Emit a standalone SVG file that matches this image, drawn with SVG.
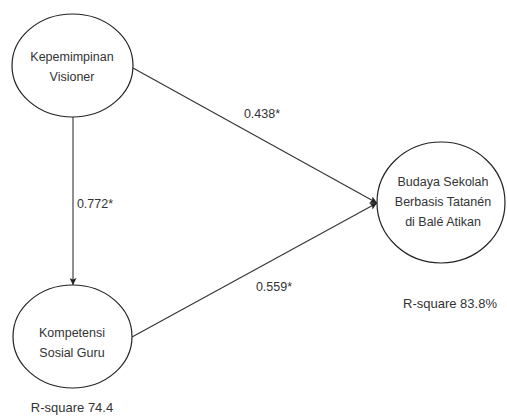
<svg xmlns="http://www.w3.org/2000/svg" width="507" height="416" viewBox="0 0 507 416">
<style>
.node{fill:#fff;stroke:#222;stroke-width:1.2}
.t{font-family:"Liberation Sans",Arial,sans-serif;font-size:12.5px;fill:#333;text-anchor:middle}
.r{font-size:13px}
.e{stroke:#333;stroke-width:1.1;fill:none}
</style>
<defs>
<marker id="arr" viewBox="0 0 10 10" refX="10" refY="5" markerWidth="9" markerHeight="7" orient="auto" markerUnits="userSpaceOnUse">
<path d="M0,0 L10,5 L0,10 L2,5 Z" fill="#222"/>
</marker>
</defs>
<rect width="507" height="416" fill="#fff"/>
<g id="connectors">
<line class="e" x1="73" y1="117" x2="73" y2="285" marker-end="url(#arr)"/>
<line class="e" x1="133" y1="68" x2="377" y2="203" marker-end="url(#arr)"/>
<line class="e" x1="132" y1="337" x2="377" y2="203" marker-end="url(#arr)"/>
<text class="t" x="262" y="118">0.438*</text>
<text class="t" x="95" y="208">0.772*</text>
<text class="t" x="274" y="291">0.559*</text>
</g>
<g id="kepemimpinan">
<ellipse class="node" cx="72.5" cy="65.5" rx="60.5" ry="51.5"/>
<text class="t" x="72" y="61">Kepemimpinan</text>
<text class="t" x="72" y="81">Visioner</text>
</g>
<g id="kompetensi">
<ellipse class="node" cx="72.5" cy="336.5" rx="59.5" ry="51.5"/>
<text class="t" x="72" y="337">Kompetensi</text>
<text class="t" x="72" y="357">Sosial Guru</text>
</g>
<g id="budaya">
<ellipse class="node" cx="441" cy="202.5" rx="64" ry="60.5"/>
<text class="t" x="443" y="186">Budaya Sekolah</text>
<text class="t" x="443" y="206">Berbasis Tatanén</text>
<text class="t" x="443" y="226">di Balé Atikan</text>
</g>
<text class="t r" x="450" y="308">R-square 83.8%</text>
<text class="t r" x="72" y="412">R-square 74.4</text>
</svg>
